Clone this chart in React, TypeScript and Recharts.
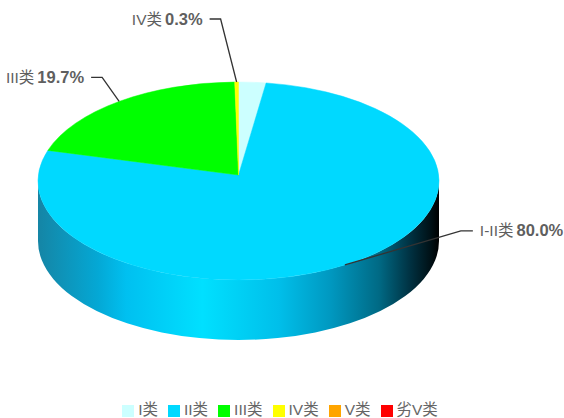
import { PieChart, Pie, Legend } from 'recharts'

const categories = ['I类', 'II类', 'III类', 'IV类', 'V类', '劣V类']
const shares = [2.2, 77.8, 19.7, 0.3, 0, 0]
const colors = ['#ccffff', '#00d9ff', '#00ff00', '#ffff00', '#ffa500', '#ff0000']
const labelTexts = ['', 'I-II类', 'III类', 'IV类', '', '']
const labelValues = ['', '80.0%', '19.7%', '0.3%', '', '']

const data = categories.map((name, i) => ({ name, value: shares[i], fill: colors[i] }))

const FONT = '"Liberation Sans", "Noto Sans CJK SC", sans-serif'
const RX = 200.5
const RY = 99
const DEPTH = 60
const APEX_SHIFT = -6 // perspective: the apex sits a little above the ellipse centre

// recharts angles run counter-clockwise from 3 o'clock
const rim = (cx: number, cy: number, deg: number) => ({
  x: cx + RX * Math.cos((deg * Math.PI) / 180),
  y: cy - RY * Math.sin((deg * Math.PI) / 180),
})

function TopSlice(props: any) {
  const { cx, cy, startAngle, endAngle, fill } = props
  if (Math.abs(startAngle - endAngle) < 0.001) return null
  const a = rim(cx, cy, startAngle)
  const b = rim(cx, cy, endAngle)
  const large = Math.abs(startAngle - endAngle) > 180 ? 1 : 0
  const d = `M${cx},${cy + APEX_SHIFT}L${a.x},${a.y}A${RX},${RY} 0 ${large} 1 ${b.x},${b.y}Z`
  return <path d={d} fill={fill} stroke={fill} strokeWidth={0.5} />
}

function WallSlice(props: any) {
  const { cx, cy, startAngle, endAngle } = props
  // only the front half of the cylinder shows: 0..-180 in recharts angles
  const s = Math.min(0, startAngle)
  const e = Math.max(-180, endAngle)
  if (s <= e) return null
  const a = rim(cx, cy, s)
  const b = rim(cx, cy, e)
  const d =
    `M${a.x},${a.y}A${RX},${RY} 0 0 1 ${b.x},${b.y}` +
    `L${b.x},${b.y + DEPTH}A${RX},${RY} 0 0 0 ${a.x},${a.y + DEPTH}Z`
  return <path d={d} fill="url(#wallShade)" />
}

function SliceLabel(props: any) {
  const { cx, cy, midAngle, index } = props
  if (!labelTexts[index]) return null
  const p = rim(cx, cy, midAngle)
  const onRight = p.x > cx
  const rise = index === 1 ? 34 : index === 2 ? 24 : 63
  const run = index === 1 ? 116 : index === 2 ? 17 : 16
  const elbowX = onRight ? p.x + run : p.x - run
  const elbowY = p.y - rise
  const endX = onRight ? elbowX + 12 : elbowX - 11
  const textX = onRight ? endX + 7 : endX - 7
  return (
    <g>
      <path
        d={`M${p.x},${p.y}L${elbowX},${elbowY}L${endX},${elbowY}`}
        fill="none"
        stroke="#333333"
        strokeWidth={1.3}
      />
      <text
        x={textX}
        y={elbowY}
        dy={5.5}
        textAnchor={onRight ? 'start' : 'end'}
        fontFamily={FONT}
        fontSize={15.5}
        fill="#5f5f5f"
      >
        {labelTexts[index]}
        <tspan dx={3} fontSize={16.5} fontWeight={700}>{labelValues[index]}</tspan>
      </text>
    </g>
  )
}

export default function App() {
  return (
    <div style={{ position: 'absolute', left: 0, top: 0, width: 564, height: 418 }}>
      <PieChart width={564} height={418} margin={{ top: 0, right: 0, bottom: 0, left: 0 }}>
        <defs>
          <linearGradient id="wallShade" gradientUnits="userSpaceOnUse" x1={38} y1={0} x2={439} y2={0}>
            <stop offset="0%" stopColor="#1585a5" />
            <stop offset="15%" stopColor="#04a8d5" />
            <stop offset="22%" stopColor="#00c0f0" />
            <stop offset="41%" stopColor="#00e0ff" />
            <stop offset="60%" stopColor="#00bfea" />
            <stop offset="73%" stopColor="#0098c0" />
            <stop offset="85%" stopColor="#006a85" />
            <stop offset="93%" stopColor="#003040" />
            <stop offset="98%" stopColor="#001015" />
            <stop offset="100%" stopColor="#000000" />
          </linearGradient>
        </defs>
        <Pie
          data={data}
          dataKey="value"
          nameKey="name"
          cx={238.5}
          cy={181}
          outerRadius={RX}
          startAngle={90}
          endAngle={-270}
          stroke="none"
          legendType="none"
          shape={WallSlice}
          isAnimationActive={false}
        />
        <Pie
          data={data}
          dataKey="value"
          nameKey="name"
          cx={238.5}
          cy={181}
          outerRadius={RX}
          startAngle={90}
          endAngle={-270}
          stroke="none"
          legendType="square"
          shape={TopSlice}
          label={SliceLabel}
          labelLine={false}
          isAnimationActive={false}
        />
        <Legend
          verticalAlign="bottom"
          align="center"
          iconSize={12}
          itemSorter={null}
          wrapperStyle={{ fontFamily: FONT, fontSize: 15.5, lineHeight: '15px', bottom: 1, left: 3 }}
          formatter={(value: string) => <span style={{ color: '#666666' }}>{value}</span>}
        />
      </PieChart>
    </div>
  )
}
